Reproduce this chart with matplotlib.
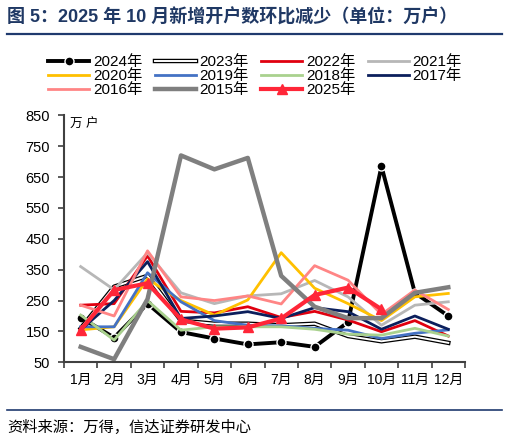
import numpy as np
import matplotlib
matplotlib.use("Agg")
import matplotlib.pyplot as plt
import matplotlib.patheffects as pe

plt.rcParams['font.family'] = ['Liberation Sans', 'Noto Sans CJK SC']

months = ["1月", "2月", "3月", "4月", "5月", "6月", "7月", "8月", "9月", "10月", "11月", "12月"]

y2024 = [195, 130, 240, 148, 127, 108, 115, 100, 180, 685, 275, 200]
y2023 = [160, 295, 330, 185, 175, 175, 170, 175, 135, 118, 133, 113]
y2022 = [235, 240, 395, 215, 210, 230, 195, 215, 187, 149, 185, 135]
y2021 = [360, 285, 405, 275, 240, 265, 272, 315, 262, 170, 235, 246]
y2020 = [155, 165, 320, 250, 203, 252, 405, 290, 240, 185, 262, 273]
y2019 = [165, 165, 340, 246, 185, 170, 168, 160, 154, 127, 144, 155]
y2018 = [203, 122, 250, 154, 165, 165, 165, 157, 141, 138, 160, 135]
y2017 = [155, 250, 376, 192, 200, 214, 192, 227, 214, 157, 200, 157]
y2016 = [235, 200, 411, 262, 250, 265, 239, 363, 316, 205, 284, 221]
y2015 = [100, 60, 255, 720, 675, 712, 330, 230, 193, 193, 275, 293]
y2025 = [155, 284, 306, 189, 159, 163, 192, 268, 292, 222]

fig = plt.figure(figsize=(5.08, 4.42), dpi=100)
ax = fig.add_axes([64/508, 1-362.3/442, 401/508, 247/442])
x = np.arange(12)

h = {}
h['2024年'], = ax.plot(x, y2024, color='black', lw=2.8, marker='o', ms=6.5,
                      mfc='black', mec='white', mew=1)
h['2023年'], = ax.plot(x, y2023, color='white', lw=1.4,
                      path_effects=[pe.Stroke(linewidth=3.2, foreground='black'), pe.Normal()])
h['2022年'], = ax.plot(x, y2022, color='#E0000F', lw=2)
h['2021年'], = ax.plot(x, y2021, color='#B7B7B7', lw=2)
h['2020年'], = ax.plot(x, y2020, color='#FFC000', lw=2)
h['2019年'], = ax.plot(x, y2019, color='#4472C4', lw=2)
h['2018年'], = ax.plot(x, y2018, color='#A9D18E', lw=2)
h['2017年'], = ax.plot(x, y2017, color='#0B1F5C', lw=2)
h['2016年'], = ax.plot(x, y2016, color='#FF8585', lw=2)
h['2015年'], = ax.plot(x, y2015, color='#7F7F7F', lw=3.2)
h['2025年'], = ax.plot(np.arange(len(y2025)), y2025, color='#FF2638', lw=3,
                      marker='^', ms=7.5)

ax.set_xlim(-0.5, 11.5)
ax.set_ylim(50, 850)
ax.set_yticks(np.arange(50, 851, 100))
ax.set_xticks(np.arange(-0.5, 12, 1))
ax.set_xticklabels([])
ax.set_xticks(x, minor=True)
ax.set_xticklabels(months, minor=True)
ax.tick_params(axis='x', which='minor', length=0, pad=8, labelsize=10)
ax.tick_params(axis='x', which='major', length=4, width=1.2, color='#404040')
ax.tick_params(axis='y', length=4, width=1.2, color='#404040', labelsize=10.5, pad=6)
for s in ['top', 'right']:
    ax.spines[s].set_visible(False)
for s in ['left', 'bottom']:
    ax.spines[s].set_linewidth(1.5)
    ax.spines[s].set_color('#404040')

ax.text(0.015, 0.985, "万 户", transform=ax.transAxes, fontsize=9, va='top', ha='left', style='italic')

order = ['2024年', '2020年', '2016年', '2023年', '2019年', '2015年',
         '2022年', '2018年', '2025年', '2021年', '2017年']
fig.legend([h[k] for k in order], order, loc='center', bbox_to_anchor=(255/508, 1-76/442),
           ncol=4, frameon=False, fontsize=11, handlelength=2.7, handletextpad=0.25,
           columnspacing=0.8, labelspacing=0.0, borderpad=0)

fig.text(7/508, 1-17/442, "图 5：2025 年 10 月新增开户数环比减少（单位：万户）", fontsize=13,
         fontweight='bold', color='#1F3864', va='center', ha='left')
fig.add_artist(plt.Line2D([7/508, 502/508], [1-34/442, 1-34/442], color='#1F3A6E', lw=1.6))
fig.add_artist(plt.Line2D([7/508, 502/508], [1-410/442, 1-410/442], color='#1F3A6E', lw=1.2))
fig.text(7/508, 1-427/442, "资料来源：万得，信达证券研发中心", fontsize=11, va='center', ha='left',
         style='italic')

fig.savefig("out.png", dpi=100)
